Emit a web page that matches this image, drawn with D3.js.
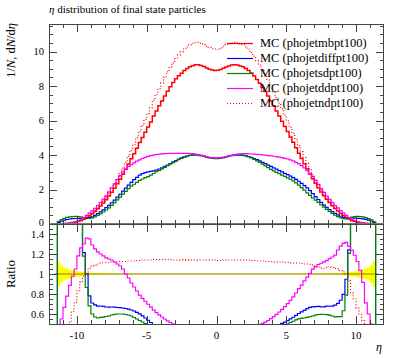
<!DOCTYPE html>
<html>
<head>
<meta charset="utf-8">
<script src="https://cdn.jsdelivr.net/npm/d3@7"></script>
<style>
  body { margin: 0; background: #fff; }
  svg { display: block; font-family: "Liberation Serif", serif; }
</style>
</head>
<body>
<svg id="chart" width="397" height="358"></svg>
<script>
// bins of width 0.2 from -12 to 12 (values listed by bin, left to right)
const nBins = 120;
const binEdges = d3.range(nBins + 1).map(i => -12 + i * 0.2);

const mbpt100 = [
  0, 0, 0.005, 0.012, 0.02, 0.03, 0.045, 0.062, 0.088, 0.12,
  0.16, 0.21, 0.28, 0.37, 0.47, 0.59, 0.73, 0.88, 1.04, 1.22,
  1.41, 1.62, 1.84, 2.08, 2.34, 2.6, 2.88, 3.18, 3.48, 3.78,
  4.08, 4.4, 4.72, 5.02, 5.32, 5.62, 5.92, 6.26, 6.56, 6.86,
  7.14, 7.42, 7.7, 7.96, 8.2, 8.42, 8.6, 8.75, 8.9, 9.02,
  9.12, 9.18, 9.23, 9.24, 9.2, 9.13, 9.05, 8.98, 8.93, 8.9,
  8.92, 8.96, 9.04, 9.11, 9.17, 9.22, 9.24, 9.22, 9.17, 9.12,
  9.02, 8.9, 8.76, 8.58, 8.38, 8.16, 7.92, 7.68, 7.42, 7.14,
  6.86, 6.56, 6.26, 5.96, 5.66, 5.36, 5.05, 4.74, 4.42, 4.1,
  3.8, 3.5, 3.2, 2.9, 2.62, 2.36, 2.1, 1.86, 1.64, 1.43,
  1.24, 1.06, 0.9, 0.75, 0.61, 0.49, 0.38, 0.29, 0.21, 0.16,
  0.12, 0.085, 0.06, 0.045, 0.03, 0.02, 0.012, 0.005, 0, 0
];

const diffpt100 = [
  0, 0, 0, 0.1, 0.17, 0.22, 0.26, 0.29, 0.31, 0.32,
  0.33, 0.33, 0.34, 0.37, 0.367, 0.419, 0.504, 0.598, 0.707, 0.824,
  0.945, 1.085, 1.233, 1.389, 1.556, 1.724, 1.901, 2.083, 2.255, 2.419,
  2.57, 2.71, 2.84, 2.92, 2.98, 3.02, 3.05, 3.08, 3.13, 3.19,
  3.26, 3.34, 3.42, 3.51, 3.6, 3.68, 3.76, 3.83, 3.89, 3.94,
  3.98, 4.0, 4.01, 4.0, 3.97, 3.93, 3.89, 3.85, 3.83, 3.82,
  3.82, 3.83, 3.86, 3.9, 3.94, 3.97, 3.99, 4.0, 4.0, 3.98,
  3.95, 3.91, 3.86, 3.8, 3.73, 3.66, 3.58, 3.5, 3.42, 3.34,
  3.26, 3.18, 3.1, 3.02, 2.94, 2.86, 2.78, 2.69, 2.59, 2.48,
  2.36, 2.23, 2.09, 1.93, 1.76, 1.59, 1.42, 1.25, 1.1, 0.97,
  0.84, 0.72, 0.62, 0.53, 0.45, 0.39, 0.36, 0.36, 0.35, 0.34,
  0.33, 0.32, 0.3, 0.27, 0.23, 0.18, 0.1, 0, 0, 0
];

const sdpt100 = [
  0, 0, 0, 0.15, 0.26, 0.33, 0.38, 0.41, 0.43, 0.44,
  0.43, 0.41, 0.33, 0.32, 0.32, 0.354, 0.416, 0.493, 0.588, 0.695,
  0.811, 0.94, 1.086, 1.242, 1.404, 1.56, 1.728, 1.892, 2.053, 2.192,
  2.305, 2.42, 2.525, 2.61, 2.687, 2.75, 2.84, 2.93, 3.03, 3.11,
  3.2, 3.29, 3.38, 3.47, 3.56, 3.65, 3.73, 3.81, 3.88, 3.94,
  3.98, 4.01, 4.02, 4.0, 3.96, 3.92, 3.87, 3.83, 3.8, 3.79,
  3.79, 3.8, 3.84, 3.89, 3.94, 3.98, 4.01, 4.03, 4.03, 4.0,
  3.96, 3.9, 3.83, 3.75, 3.66, 3.57, 3.47, 3.37, 3.27, 3.17,
  3.08, 3.0, 2.92, 2.84, 2.76, 2.68, 2.6, 2.5, 2.39, 2.26,
  2.11, 1.96, 1.81, 1.66, 1.52, 1.39, 1.25, 1.11, 0.98, 0.85,
  0.73, 0.615, 0.515, 0.43, 0.35, 0.31, 0.3, 0.35, 0.4, 0.43,
  0.44, 0.43, 0.41, 0.37, 0.31, 0.24, 0.13, 0, 0, 0
];

const ddpt100 = [
  0, 0, 0, 0.0054, 0.011, 0.02, 0.035, 0.055, 0.086, 0.126,
  0.189, 0.265, 0.364, 0.503, 0.635, 0.761, 0.913, 1.074, 1.248, 1.44,
  1.636, 1.863, 2.098, 2.33, 2.574, 2.808, 3.024, 3.18, 3.341, 3.44,
  3.55, 3.652, 3.72, 3.8, 3.87, 3.92, 3.96, 4.0, 4.03, 4.05,
  4.07, 4.08, 4.09, 4.1, 4.1, 4.1, 4.1, 4.1, 4.1, 4.1,
  4.09, 4.08, 4.06, 4.03, 3.99, 3.95, 3.91, 3.87, 3.85, 3.84,
  3.84, 3.85, 3.87, 3.9, 3.94, 3.98, 4.02, 4.05, 4.07, 4.08,
  4.08, 4.07, 4.06, 4.05, 4.04, 4.03, 4.01, 3.99, 3.97, 3.95,
  3.93, 3.91, 3.88, 3.85, 3.81, 3.77, 3.72, 3.66, 3.58, 3.5,
  3.38, 3.26, 3.1, 2.92, 2.75, 2.53, 2.3, 2.06, 1.84, 1.62,
  1.43, 1.24, 1.07, 0.93, 0.78, 0.64, 0.5, 0.37, 0.26, 0.19,
  0.135, 0.088, 0.055, 0.032, 0.018, 0.01, 0.004, 0, 0, 0
];

const ndpt100 = [
  0, 0, 0.0005, 0.002, 0.0044, 0.009, 0.018, 0.032, 0.055, 0.086,
  0.133, 0.193, 0.274, 0.377, 0.498, 0.637, 0.796, 0.968, 1.154, 1.36,
  1.572, 1.806, 2.061, 2.33, 2.621, 2.925, 3.24, 3.578, 3.932, 4.271,
  4.61, 4.994, 5.357, 5.723, 6.065, 6.407, 6.749, 7.17, 7.51, 7.85,
  8.18, 8.5, 8.82, 9.11, 9.35, 9.6, 9.8, 9.98, 10.15, 10.28,
  10.4, 10.47, 10.52, 10.53, 10.49, 10.41, 10.32, 10.24, 10.18, 10.15,
  10.12, 10.17, 10.31, 10.39, 10.45, 10.51, 10.53, 10.51, 10.45, 10.4,
  10.28, 10.15, 9.94, 9.74, 9.47, 9.22, 8.95, 8.64, 8.35, 8.03,
  7.68, 7.35, 7.01, 6.68, 6.31, 5.98, 5.61, 5.26, 4.91, 4.55,
  4.2, 3.85, 3.52, 3.18, 2.86, 2.55, 2.25, 1.97, 1.73, 1.52,
  1.33, 1.13, 0.95, 0.79, 0.63, 0.5, 0.38, 0.27, 0.17, 0.12,
  0.079, 0.051, 0.032, 0.021, 0.012, 0.006, 0.0024, 0.0005, 0, 0
];

// relative uncertainty of the reference (mbpt100), drawn as the yellow band
const mbRelErr = [
  0, 0, 0, 0.12, 0.085, 0.065, 0.052, 0.044, 0.037, 0.031,
  0.026, 0.022, 0.018, 0.015, 0.013, 0.011, 0.01, 0.009, 0.008, 0.007,
  0.007, 0.006, 0.006, 0.005, 0.005, 0.005, 0.004, 0.004, 0.004, 0.004,
  0.003, 0.003, 0.003, 0.003, 0.003, 0.003, 0.003, 0.003, 0.003, 0.003,
  0.003, 0.003, 0.003, 0.003, 0.003, 0.003, 0.003, 0.003, 0.003, 0.003,
  0.003, 0.003, 0.003, 0.003, 0.003, 0.003, 0.003, 0.003, 0.003, 0.003,
  0.003, 0.003, 0.003, 0.003, 0.003, 0.003, 0.003, 0.003, 0.003, 0.003,
  0.003, 0.003, 0.003, 0.003, 0.003, 0.003, 0.003, 0.003, 0.003, 0.003,
  0.003, 0.003, 0.003, 0.003, 0.003, 0.003, 0.003, 0.003, 0.003, 0.003,
  0.004, 0.004, 0.004, 0.004, 0.005, 0.005, 0.005, 0.006, 0.006, 0.007,
  0.007, 0.008, 0.009, 0.01, 0.011, 0.013, 0.015, 0.018, 0.022, 0.026,
  0.031, 0.037, 0.044, 0.052, 0.065, 0.09, 0.13, 0, 0, 0
];

const seriesNames = ['MC (phojetmbpt100)', 'MC (phojetdiffpt100)', 'MC (phojetsdpt100)',
                     'MC (phojetddpt100)', 'MC (phojetndpt100)'];
const seriesData = [mbpt100, diffpt100, sdpt100, ddpt100, ndpt100];
const seriesColors = ['#ff0000', '#0000ff', '#008000', '#ff00ff', '#ff0000'];
const seriesDash = [null, null, null, null, '1,2'];

const xTicks = [-10, -5, 0, 5, 10];
const yTicks = [0, 2, 4, 6, 8, 10];
const rTicks = [0.6, 0.8, 1, 1.2, 1.4];

const svg = d3.select('#chart');
const left = 49, right = 384;
const mainTop = 24, mainBot = 224, ratTop = 224, ratBot = 324;

const x = d3.scaleLinear().domain([-12, 12]).range([left, right]);
const y = d3.scaleLinear().domain([0, 11.6]).range([mainBot, mainTop]);
const yr = d3.scaleLinear().domain([0.5, 1.5]).range([ratBot, ratTop]);

svg.append('clipPath').attr('id', 'clipMain')
  .append('rect').attr('x', left).attr('y', mainTop).attr('width', right - left).attr('height', mainBot - mainTop);
svg.append('clipPath').attr('id', 'clipRatio')
  .append('rect').attr('x', left).attr('y', ratTop).attr('width', right - left).attr('height', ratBot - ratTop);

function stepPoints(vals) {
  const pts = [];
  vals.forEach((v, i) => {
    if (v == null) { pts.push([binEdges[i], null]); return; }
    pts.push([binEdges[i], v]);
    if (i === vals.length - 1 || vals[i + 1] == null) pts.push([binEdges[i + 1], v]);
  });
  return pts;
}

// main histograms
const gMain = svg.append('g').attr('clip-path', 'url(#clipMain)');
const mainLine = d3.line().x(d => x(d[0])).y(d => y(d[1])).curve(d3.curveStepAfter);
seriesData.forEach((vals, k) => {
  gMain.append('path')
    .attr('d', mainLine(stepPoints(vals)))
    .attr('fill', 'none')
    .attr('stroke', seriesColors[k])
    .attr('stroke-width', k === 0 ? 1.5 : 1.2)
    .attr('stroke-dasharray', seriesDash[k]);
});

// ratio panel
const gRat = svg.append('g').attr('clip-path', 'url(#clipRatio)');
const band = d3.area()
  .defined(d => d[1] != null)
  .x(d => x(d[0]))
  .y0(d => yr(1 - d[1]))
  .y1(d => yr(1 + d[1]))
  .curve(d3.curveStepAfter);
gRat.append('path')
  .attr('d', band(stepPoints(mbRelErr.map(e => e > 0 ? e : null))))
  .attr('fill', '#ffff00');

const ratioLine = d3.line()
  .defined(d => d[1] != null)
  .x(d => x(d[0])).y(d => yr(d[1]))
  .curve(d3.curveStepAfter);
seriesData.forEach((vals, k) => {
  const r = vals.map((v, i) => mbpt100[i] > 0 ? Math.max(0.3, Math.min(1.7, v / mbpt100[i])) : null);
  gRat.append('path')
    .attr('d', ratioLine(stepPoints(r)))
    .attr('fill', 'none')
    .attr('stroke', k === 0 ? '#8b8000' : seriesColors[k])
    .attr('stroke-width', 1.2)
    .attr('stroke-dasharray', seriesDash[k]);
});

// frames and ticks
const axisColor = '#444';
function frame(top, bot) {
  svg.append('rect')
    .attr('x', left + 0.5).attr('y', top + 0.5)
    .attr('width', right - left - 1).attr('height', bot - top)
    .attr('fill', 'none').attr('stroke', axisColor).attr('stroke-width', 1);
}
frame(mainTop, mainBot);
frame(ratTop, ratBot);
svg.append('line').attr('x1', left).attr('x2', right).attr('y1', mainBot - 0.5).attr('y2', mainBot - 0.5)
  .attr('stroke', '#777').attr('stroke-width', 1);

const tickG = svg.append('g').attr('stroke', axisColor).attr('stroke-width', 1);
function xTickMarks(top, bot) {
  d3.range(-11, 12).forEach(v => {
    const len = v % 5 === 0 ? 8 : 4;
    const px = Math.round(x(v)) + 0.5;
    tickG.append('line').attr('x1', px).attr('x2', px).attr('y1', top).attr('y2', top + len);
    tickG.append('line').attr('x1', px).attr('x2', px).attr('y1', bot).attr('y2', bot - len);
  });
}
xTickMarks(mainTop, mainBot);
xTickMarks(ratTop, ratBot);

function yTickMarks(scale, lo, hi, minorStep, majorStep) {
  const n = Math.round((hi - lo) / minorStep);
  for (let i = 0; i <= n; i++) {
    const v = lo + i * minorStep;
    const major = Math.abs(v / majorStep - Math.round(v / majorStep)) < 1e-6;
    const len = major ? 8 : 4;
    const py = Math.round(scale(v)) + 0.5;
    tickG.append('line').attr('x1', left).attr('x2', left + len).attr('y1', py).attr('y2', py);
    tickG.append('line').attr('x1', right).attr('x2', right - len).attr('y1', py).attr('y2', py);
  }
}
yTickMarks(y, 0, 11.5, 0.5, 2);
yTickMarks(yr, 0.55, 1.45, 0.05, 0.2);

// tick labels
svg.append('g').selectAll('text').data(yTicks).join('text')
  .attr('x', 44).attr('y', d => y(d) + (d === 0 ? 2 : 3.5))
  .attr('text-anchor', 'end').attr('font-size', 10.5)
  .text(d => d);
svg.append('g').selectAll('text').data(rTicks).join('text')
  .attr('x', 44).attr('y', d => yr(d) + 4)
  .attr('text-anchor', 'end').attr('font-size', 10.5)
  .text(d => d);
svg.append('g').selectAll('text').data(xTicks).join('text')
  .attr('x', d => x(d)).attr('y', 339)
  .attr('text-anchor', 'middle').attr('font-size', 11)
  .text(d => d);

// titles
svg.append('text').attr('x', 49).attr('y', 13).attr('font-size', 11)
  .html('<tspan font-style="italic">η</tspan> distribution of final state particles');
svg.append('text').attr('transform', 'translate(15,23) rotate(-90)')
  .attr('text-anchor', 'end').attr('font-size', 12.5)
  .html('1/<tspan font-style="italic">N</tspan>, d<tspan font-style="italic">N</tspan>/d<tspan font-style="italic">η</tspan>');
svg.append('text').attr('transform', `translate(15,${yr(1)}) rotate(-90)`)
  .attr('text-anchor', 'middle').attr('font-size', 13)
  .text('Ratio');
svg.append('text').attr('x', 382).attr('y', 351).attr('text-anchor', 'end')
  .attr('font-size', 12).attr('font-style', 'italic').text('η');

// legend
const legend = svg.append('g');
seriesNames.forEach((name, k) => {
  const ly = 47 + k * 15;
  legend.append('line')
    .attr('x1', 227).attr('x2', 253).attr('y1', ly - 3.5).attr('y2', ly - 3.5)
    .attr('stroke', seriesColors[k]).attr('stroke-width', 1.2)
    .attr('stroke-dasharray', seriesDash[k]);
  legend.append('text').attr('x', 260).attr('y', ly)
    .attr('font-size', 12.5).text(name);
});
</script>
</body>
</html>
